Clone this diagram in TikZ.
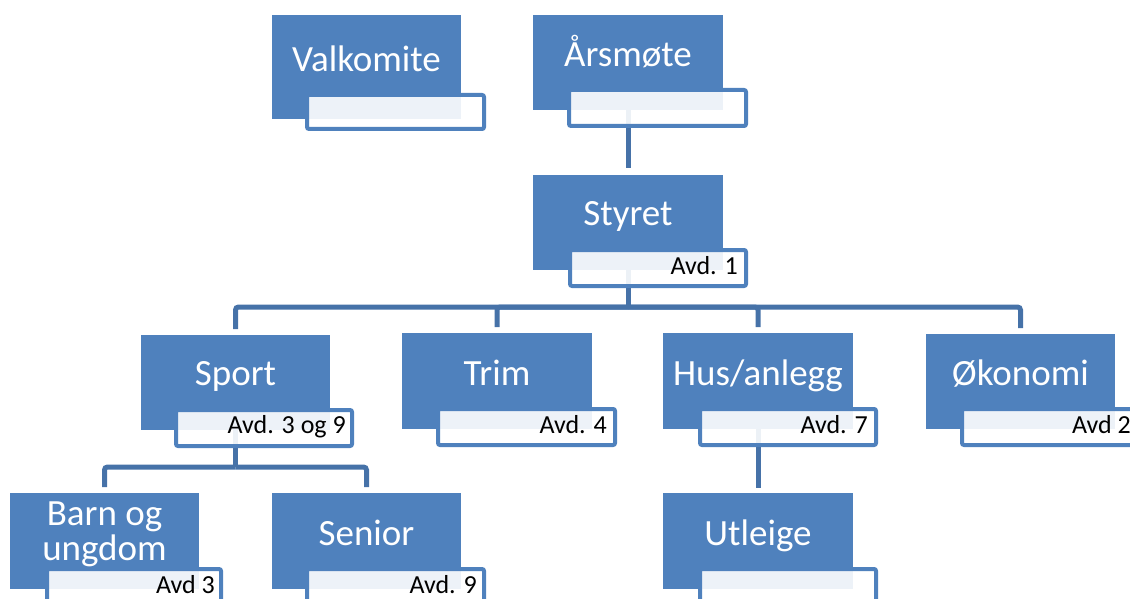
\documentclass[tikz,border=0pt]{standalone}
\usepackage{fontspec}
\setmainfont{Carlito}
\definecolor{boxblue}{HTML}{4F81BD}
\definecolor{lineblue}{HTML}{4672A8}
\pgfdeclarelayer{bg}
\pgfsetlayers{bg,main}
\tikzset{
  mainbox/.style={fill=boxblue, draw=none, inner sep=0pt, outer sep=0pt, anchor=north west},
  labbox/.style={draw=boxblue, line width=4pt, fill=white, fill opacity=0.9, rounded corners=2pt,
    inner sep=0pt, outer sep=0pt, anchor=north west, minimum width=176pt, minimum height=36pt},
  maintext/.style={text=white, inner sep=0pt, anchor=base, align=center,
    font=\fontsize{37}{35}\selectfont},
  avdtext/.style={text=black, inner sep=0pt, anchor=base east, font=\fontsize{26}{30}\selectfont},
  conn/.style={draw=lineblue, line width=5pt, rounded corners=3pt},
}
\begin{document}
\begin{tikzpicture}[x=1pt,y=-1pt]
\useasboundingbox (0,0) rectangle (1130,599);
\clip (0,0) rectangle (1130,599);
% blue boxes
\node[mainbox, minimum width=189pt, minimum height=104pt] (valk) at (272,15) {};
\node[mainbox, minimum width=190pt, minimum height=95pt] (ars) at (533,15) {};
\node[mainbox, minimum width=190pt, minimum height=95pt] (styret) at (533,175) {};
\node[mainbox, minimum width=189pt, minimum height=95pt] (sport) at (141,335) {};
\node[mainbox, minimum width=190pt, minimum height=96pt] (trim) at (402,333) {};
\node[mainbox, minimum width=190pt, minimum height=96pt] (hus) at (663,333) {};
\node[mainbox, minimum width=189pt, minimum height=95pt] (okon) at (926,334) {};
\node[mainbox, minimum width=189pt, minimum height=96pt] (barn) at (10,493) {};
\node[mainbox, minimum width=189pt, minimum height=96pt] (senior) at (272,493) {};
\node[mainbox, minimum width=190pt, minimum height=96pt] (utl) at (663,493) {};
% main texts
\node[maintext] (valkT) at (366.5,72) {Valkomite};
\node[maintext] (arsT) at (628,67) {Årsmøte};
\node[maintext] (styretT) at (628,225) {Styret};
\node[maintext] (sportT) at (235.5,385) {Sport};
\node[maintext] (trimT) at (497,385) {Trim};
\node[maintext] (husT) at (758,385) {Hus/anlegg};
\node[maintext] (okonT) at (1020.5,385) {Økonomi};
\node[maintext] (barnT1) at (104.5,525) {Barn og};
\node[maintext] (barnT2) at (104.5,560) {ungdom};
\node[maintext] (seniorT) at (366.5,545) {Senior};
\node[maintext] (utlT) at (758,545) {Utleige};
% connectors
\coordinate (bus1) at (628,307);
\coordinate (bus2) at (235.5,467);
\begin{pgfonlayer}{bg}
\draw[conn, shorten >=7pt] (ars.south) -- (styret.north);
\draw[conn] (styret.south) -- (bus1);
\draw[conn, shorten >=6pt] (bus1) -| (sport.north);
\draw[conn, shorten >=6pt] (bus1) -| (trim.north);
\draw[conn, shorten >=6pt] (bus1) -| (hus.north);
\draw[conn, shorten >=6pt] (bus1) -| (okon.north);
\draw[conn] (sport.south) -- (bus2);
\draw[conn, shorten >=6pt] (bus2) -| (barn.north);
\draw[conn, shorten >=6pt] (bus2) -| (senior.north);
\draw[conn, shorten >=5pt] (hus.south) -- (utl.north);
\end{pgfonlayer}
% label boxes
\node[labbox, minimum height=34pt, minimum width=177pt] (valkL) at (307,95) {};
\node[labbox, minimum width=177pt] (arsL) at (569,90) {};
\node[labbox] (styretL) at (570,250) {};
\node[labbox] (sportL) at (176,410) {};
\node[labbox, minimum width=177pt] (trimL) at (438,409) {};
\node[labbox] (husL) at (700,409) {};
\node[labbox] (okonL) at (962,409) {};
\node[labbox, minimum width=174pt] (barnL) at (47,569) {};
\node[labbox, minimum width=177pt] (seniorL) at (307,569) {};
\node[labbox] (utlL) at (700,569) {};
% label texts
\node[avdtext] (styretA) at (738,274) {Avd. 1};
\node[avdtext] (sportA) at (346,433) {Avd. 3 og 9};
\node[avdtext] (trimA) at (607,433) {Avd. 4};
\node[avdtext] (husA) at (868,433) {Avd. 7};
\node[avdtext] (okonA) at (1131,433) {Avd 2};
\node[avdtext] (barnA) at (215,593) {Avd 3};
\node[avdtext] (seniorA) at (477,593) {Avd. 9};
\end{tikzpicture}
\end{document}
